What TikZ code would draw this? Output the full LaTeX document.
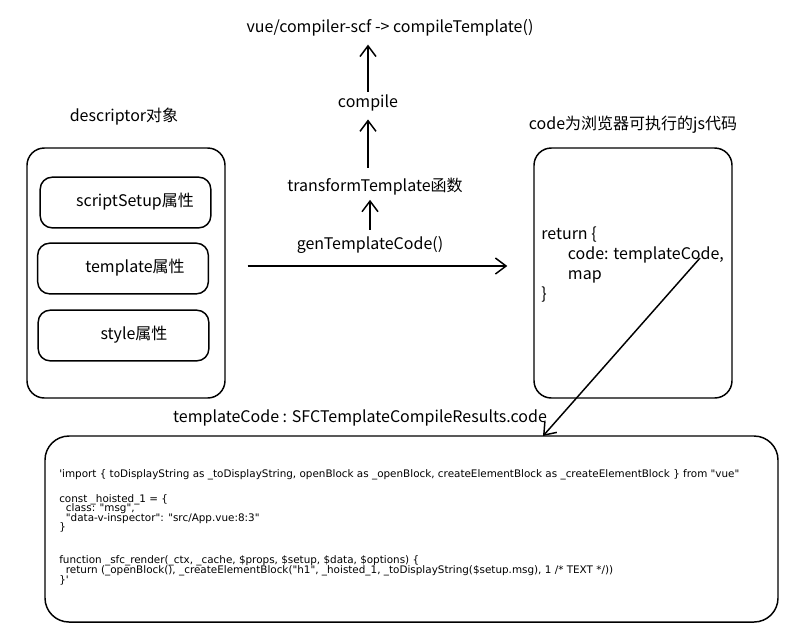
\documentclass[tikz,border=0pt]{standalone}
\usepackage{fontspec}
\setmainfont{Noto Sans CJK SC}
\newfontfamily\codefont{DejaVu Sans}
\newcommand\mycodesetup{\codefont\fontsize{7.8}{7.2}\selectfont\setlength{\lineskiplimit}{-20pt}\setlength{\lineskip}{0pt}}
\usetikzlibrary{arrows.meta,calc}
\begin{document}
\begin{tikzpicture}[x=0.75pt,y=-0.75pt,
  every node/.style={inner sep=0pt, font=\fontsize{12}{15}\selectfont},
  bigbox/.style={draw, line width=1.1pt, rounded corners=13pt, minimum width=148.5pt, minimum height=187.5pt},
  smallbox/.style={draw, line width=1.1pt, rounded corners=9pt, minimum width=128pt, minimum height=38pt},
  codebox/.style={draw, line width=1.1pt, rounded corners=18pt, minimum width=549.75pt, minimum height=139.5pt},
  arr/.style={line width=1.1pt, -{Straight Barb[length=8pt,width=12pt,line width=1.1pt]}},
  codetext/.style={align=left, font=\mycodesetup}]
\useasboundingbox (0,0) rectangle (795,637);

% left: descriptor object
\node (desclbl) at (124,117) {descriptor对象};
\node[bigbox] (desc) at (126,273) {};
\node[smallbox] (ss) at (125.5,202.5) {};
\node (sst) at (135,202) {scriptSetup属性};
\node[smallbox] (tp) at (123,268.5) {};
\node (tpt) at (135,268) {template属性};
\node[smallbox] (st) at (123.5,335.5) {};
\node (stt) at (134,335) {style属性};

% middle chain
\node (top) at (390,28) {vue/compiler-scf -> compileTemplate()};
\node (comp) at (368,103) {compile};
\node (tt) at (375,187) {transformTemplate函数};
\node (gen) at (370,245) {genTemplateCode()};

\draw[arr, shorten <=5pt, shorten >=3pt] (gen.north) -- (gen.north |- tt.south);
\draw[arr, shorten <=8pt, shorten >=6pt] (tt.north -| comp) -- (comp.south);
\draw[arr, shorten <=2pt, shorten >=6pt] (comp.north) -- (comp.north |- top.south);

% right: code
\node (codelbl) at (633,125) {code为浏览器可执行的js代码};
\node[bigbox] (cbox) at (633,273) {};
\node[align=left, anchor=west] (ret) at (541,265) {return \{\\\hspace*{20pt}code: templateCode,\\\hspace*{20pt}map\\\}};

\draw[arr, shorten <=16.5pt, shorten >=19.5pt] ([yshift=5.25pt]desc.east) -- ([yshift=5.25pt]cbox.west);

% bottom
\node (tclbl) at (360,418) {templateCode : SFCTemplateCompileResults.code};
\node[codebox] (bot) at (411.5,529) {};
\node[codetext, anchor=north west] (code) at (59,469) {%
'import \{ toDisplayString as \_toDisplayString, openBlock as \_openBlock, createElementBlock as \_createElementBlock \} from "vue"\\[11.5pt]
const \_hoisted\_1 = \{\\
\hspace*{5pt}class: "msg",\\
\hspace*{5pt}"data-v-inspector": "src/App.vue:8:3"\\
\}\\[17.5pt]
function \_sfc\_render(\_ctx, \_cache, \$props, \$setup, \$data, \$options) \{\\
\hspace*{5pt}return (\_openBlock(), \_createElementBlock("h1", \_hoisted\_1, \_toDisplayString(\$setup.msg), 1 /* TEXT */))\\
\}'};

\coordinate (d1) at (700,258);
\coordinate (d2) at (543,436);
\draw[arr] (d1) -- (d2);
\end{tikzpicture}
\end{document}
